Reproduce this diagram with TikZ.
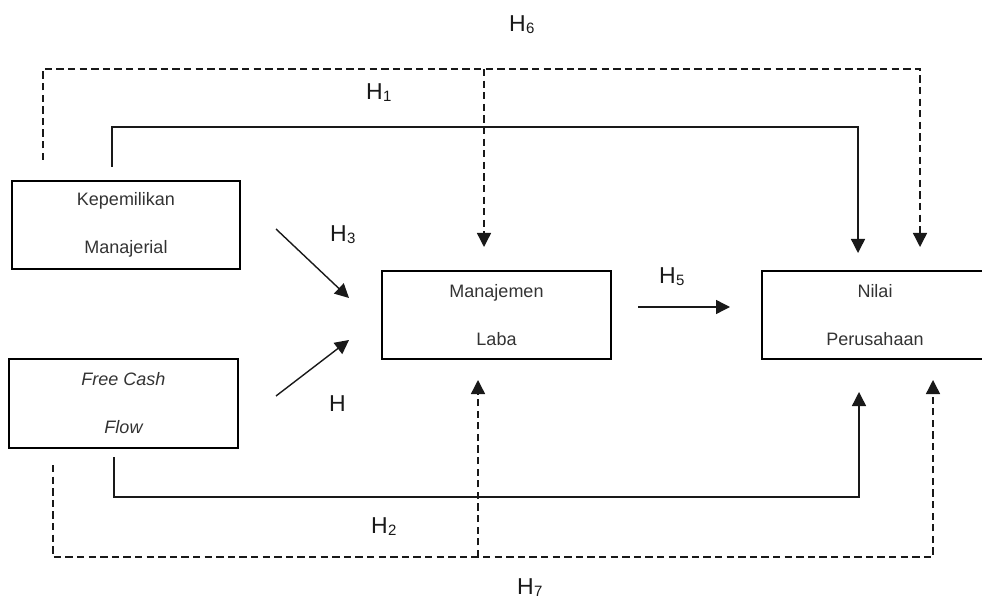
\documentclass[tikz,border=0pt]{standalone}
\usepackage{fontspec}
\setmainfont{Liberation Sans}
\usetikzlibrary{arrows.meta}
\newcommand{\hlab}[1]{H\kern0.3pt\raisebox{-2pt}{\fontsize{15}{15}\selectfont #1}}
\begin{document}
\begin{tikzpicture}[x=1pt,y=-1pt,
  box/.style={draw=black, line width=1.6pt, rectangle, inner sep=0pt, align=center, text=black!80, font=\fontsize{18}{48}\selectfont},
  solidarrow/.style={draw=black!90, line width=1.4pt, -{Triangle[length=14pt,width=14pt]}},
  dashedarrow/.style={draw=black!90, line width=1.4pt, dash pattern=on 7.3pt off 4.3pt, -{Triangle[length=14pt,width=14pt]}},
  hlabel/.style={anchor=base west, inner sep=0pt, text=black!90, font=\fontsize{23}{23}\selectfont}]
\useasboundingbox (0,0) rectangle (982,601);
% boxes
\node[box, minimum width=228pt, minimum height=88pt] (kep) at (126,225) {Kepemilikan\\Manajerial};
\node[box, minimum width=229pt, minimum height=89pt, font=\fontsize{18}{48}\selectfont\itshape] (fcf) at (123.5,403.5) {Free Cash\\Flow};
\node[box, minimum width=229pt, minimum height=88pt] (ml) at (496.5,315) {Manajemen\\Laba};
\node[box, minimum width=226pt, minimum height=88pt] (np) at (875,315) {Nilai\\Perusahaan};
% connector coordinates
\coordinate (c1s) at (112,167);
\coordinate (c1t) at (112,127);
\coordinate (c1e) at (858,253);
\coordinate (c2s) at (114,457);
\coordinate (c2b) at (114,497);
\coordinate (c2e) at (859,392);
\coordinate (d6s) at (43,160);
\coordinate (d6t) at (43,69);
\coordinate (d6a) at (484,247);
\coordinate (d6b) at (920,247);
\coordinate (d7s) at (53,465);
\coordinate (d7b) at (53,557);
\coordinate (d7a) at (478,380);
\coordinate (d7e) at (933,380);
\coordinate (h3s) at (276,229);
\coordinate (h3e) at (349,298);
\coordinate (h4s) at (276,396);
\coordinate (h4e) at (349,340);
\coordinate (h5s) at (638,307);
\coordinate (h5e) at (730,307);
% connectors
\draw[solidarrow] (c1s) -- (c1t) -| (c1e);
\draw[solidarrow] (c2s) -- (c2b) -| (c2e);
\draw[dashedarrow] (d6s) -- (d6t) -| (d6b);
\draw[dashedarrow] (d6a |- d6t) -- (d6a);
\draw[dashedarrow] (d7s) -- (d7b) -| (d7e);
\draw[dashedarrow] (d7a |- d7b) -- (d7a);
\draw[solidarrow] (h3s) -- (h3e);
\draw[solidarrow] (h4s) -- (h4e);
\draw[solidarrow] (h5s) -- (h5e);
% labels
\node[hlabel] (l6) at (509,32) {\hlab{6}};
\node[hlabel] (l1) at (366,100) {\hlab{1}};
\node[hlabel] (l3) at (330,242) {\hlab{3}};
\node[hlabel] (l4) at (329,411) {H};
\node[hlabel] (l5) at (659,284) {\hlab{5}};
\node[hlabel] (l2) at (371,533) {\hlab{2}};
\node[hlabel] (l7) at (517,594) {\hlab{7}};
\end{tikzpicture}
\end{document}
